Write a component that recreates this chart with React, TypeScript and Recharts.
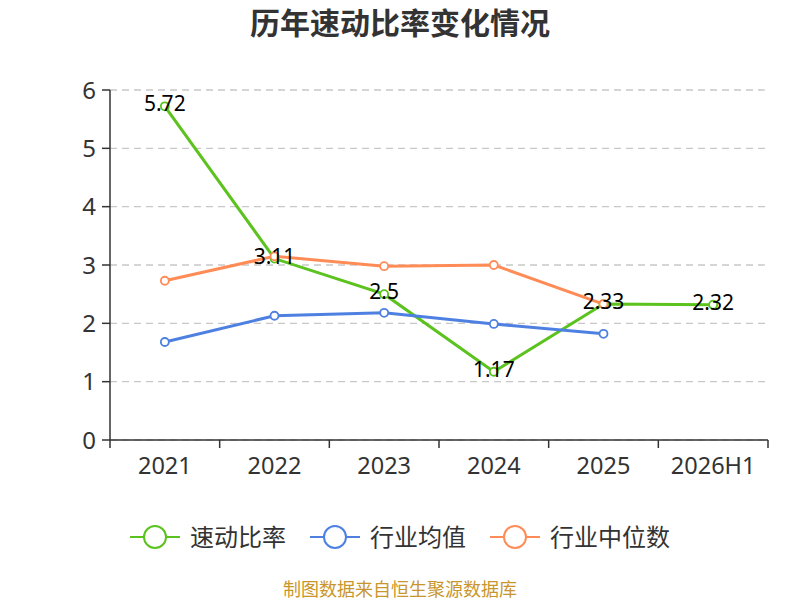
import { LineChart, Line, XAxis, YAxis, CartesianGrid, LabelList } from 'recharts'

const years = ['2021', '2022', '2023', '2024', '2025', '2026H1']
const quickRatio = [5.72, 3.11, 2.5, 1.17, 2.33, 2.32]
const industryAvg = [1.68, 2.13, 2.18, 1.99, 1.82, null]
const industryMedian = [2.73, 3.15, 2.98, 3.0, 2.33, null]
const yTicks = [0, 1, 2, 3, 4, 5, 6]

const GREEN = '#5bc21e'
const BLUE = '#4e80e2'
const ORANGE = '#ff8c57'
const FONT = '"Noto Sans", "Noto Sans CJK SC", sans-serif'

const W = 800
const H = 600
const PLOT_LEFT = 110
const PLOT_RIGHT = 768
const BAND = (PLOT_RIGHT - PLOT_LEFT) / years.length

const data = years.map((year, i) => ({
  year,
  quick: quickRatio[i],
  avg: industryAvg[i],
  median: industryMedian[i],
}))

const legendItems = [
  { name: '速动比率', color: GREEN },
  { name: '行业均值', color: BLUE },
  { name: '行业中位数', color: ORANGE },
]

// x ticks sit between categories, like a boundary-gap axis
function XTick(props: any) {
  const { x, y, payload, index } = props
  const left = x - BAND / 2
  return (
    <g>
      <line x1={left} y1={y} x2={left} y2={y + 8} stroke="#333" strokeWidth={1.5} />
      {index === years.length - 1 && (
        <line x1={left + BAND} y1={y} x2={left + BAND} y2={y + 8} stroke="#333" strokeWidth={1.5} />
      )}
      <text x={x} y={y + 34} textAnchor="middle" fill="#333" fontSize={23.5} fontFamily={FONT}>
        {payload.value}
      </text>
    </g>
  )
}

function ValueLabel(props: any) {
  const { x, y, value } = props
  return (
    <text x={x} y={y} dy={5} textAnchor="middle" fill="#000" fontSize={21} fontFamily={FONT}>
      {value}
    </text>
  )
}

function Dot(color: string) {
  return (props: any) => {
    const { cx, cy, index } = props
    if (cy == null) return <g key={index} />
    return <circle key={index} cx={cx} cy={cy} r={4} fill="#fff" stroke={color} strokeWidth={1.8} />
  }
}

export default function App() {
  return (
    <div style={{ position: 'absolute', left: 0, top: 0, width: W, height: H, background: '#fff', fontFamily: FONT }}>
      <div style={{ position: 'absolute', top: 4, width: W, textAlign: 'center', fontSize: 30, lineHeight: '38px', fontWeight: 'bold', color: '#333' }}>
        历年速动比率变化情况
      </div>
      <LineChart width={W} height={H} data={data} margin={{ top: 90, right: W - PLOT_RIGHT, bottom: 120, left: PLOT_LEFT - 50 }}>
        <CartesianGrid vertical={false} stroke="#c8c8c8" strokeDasharray="7 5" strokeWidth={1.3} />
        <XAxis
          dataKey="year"
          height={40}
          padding={{ left: BAND / 2, right: BAND / 2 }}
          axisLine={{ stroke: '#333', strokeWidth: 1.5 }}
          tickLine={false}
          tickSize={0}
          tickMargin={0}
          tick={<XTick />}
          interval={0}
        />
        <YAxis
          width={50}
          domain={[0, 6]}
          ticks={yTicks}
          axisLine={{ stroke: '#333', strokeWidth: 1.5 }}
          tickLine={{ stroke: '#333', strokeWidth: 1.5 }}
          tickSize={8}
          tickMargin={6}
          tick={{ fill: '#333', fontSize: 24, fontFamily: FONT }}
        />
        <Line
          dataKey="quick"
          stroke={GREEN}
          strokeWidth={3}
          dot={Dot(GREEN)}
          isAnimationActive={false}
        >
          <LabelList dataKey="quick" content={<ValueLabel />} />
        </Line>
        <Line dataKey="avg" stroke={BLUE} strokeWidth={3} dot={Dot(BLUE)} isAnimationActive={false} />
        <Line dataKey="median" stroke={ORANGE} strokeWidth={3} dot={Dot(ORANGE)} isAnimationActive={false} />
      </LineChart>
      <div style={{ position: 'absolute', top: 520, width: W, display: 'flex', justifyContent: 'center', gap: 24 }}>
        {legendItems.map((item) => (
          <div key={item.name} style={{ display: 'flex', alignItems: 'center', gap: 10, fontSize: 24, lineHeight: '34px', color: '#333' }}>
            <svg width={50} height={34}>
              <line x1={0} y1={17} x2={50} y2={17} stroke={item.color} strokeWidth={2} />
              <circle cx={25} cy={17} r={11} fill="#fff" stroke={item.color} strokeWidth={2} />
            </svg>
            <span>{item.name}</span>
          </div>
        ))}
      </div>
      <div style={{ position: 'absolute', top: 579, width: W, textAlign: 'center', fontSize: 18, lineHeight: '20px', color: '#c8962d' }}>
        制图数据来自恒生聚源数据库
      </div>
    </div>
  )
}
